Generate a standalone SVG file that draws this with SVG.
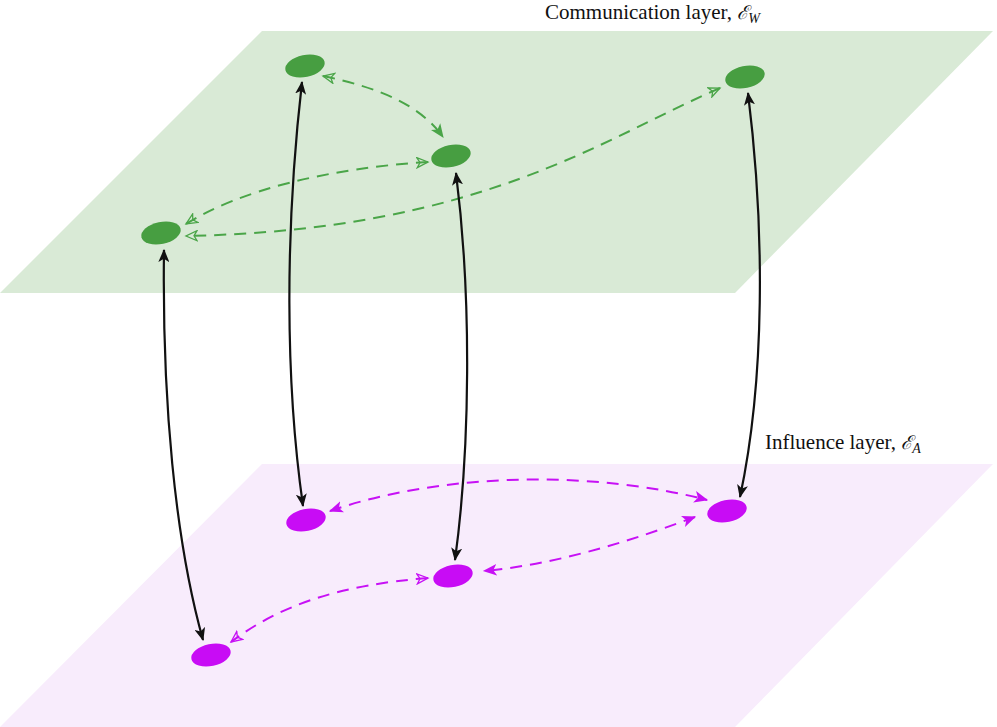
<svg xmlns="http://www.w3.org/2000/svg" width="997" height="727" viewBox="0 0 997 727">
<style>
.t{font-family:"Liberation Serif","DejaVu Serif",serif;font-size:21px;fill:#111}
.blk{fill:none;stroke:#111;stroke-width:2.2}
.gd{fill:none;stroke:#4aa548;stroke-width:2;stroke-dasharray:12,8}
.md{fill:none;stroke:#c711f5;stroke-width:2;stroke-dasharray:12,8}
.gn{fill:#479e41}.mn{fill:#c80cf5}
</style>
<defs>
<marker id="ab" viewBox="0 0 12 10" refX="11" refY="5" markerWidth="6" markerHeight="5" markerUnits="strokeWidth" orient="auto-start-reverse"><path d="M0,0 L12,5 L0,10 L3,5 Z" fill="#111"/></marker>
<marker id="ag" viewBox="0 0 12 10" refX="11" refY="5" markerWidth="7" markerHeight="6" markerUnits="strokeWidth" orient="auto-start-reverse"><path d="M0,0 L12,5 L0,10 L3,5 Z" fill="#4aa548"/></marker>
<marker id="hg" viewBox="0 0 14 12" refX="12" refY="6" markerWidth="7" markerHeight="6" markerUnits="strokeWidth" orient="auto-start-reverse"><path d="M1,1 L12,6 L1,11 L4,6 Z" fill="none" stroke="#4aa548" stroke-width="1.3"/></marker>
<marker id="am" viewBox="0 0 12 10" refX="11" refY="5" markerWidth="7" markerHeight="6" markerUnits="strokeWidth" orient="auto-start-reverse"><path d="M0,0 L12,5 L0,10 L3,5 Z" fill="#c711f5"/></marker>
<marker id="hm" viewBox="0 0 14 12" refX="12" refY="6" markerWidth="7" markerHeight="6" markerUnits="strokeWidth" orient="auto-start-reverse"><path d="M1,1 L12,6 L1,11 L4,6 Z" fill="none" stroke="#c711f5" stroke-width="1.3"/></marker>
</defs>
<polygon points="262,31 993,31 735,293 0,293" fill="#d9ead6"/>
<polygon points="262,464 993,464 735,727 0,727" fill="#f8ecfc"/>
<text class="t" x="545" y="19">Communication layer, <tspan font-style="italic" font-family="DejaVu Serif,serif" font-size="19">ℰ</tspan><tspan font-style="italic" font-size="14" dy="4">W</tspan></text>
<text class="t" x="765" y="449">Influence layer, <tspan font-style="italic" font-family="DejaVu Serif,serif" font-size="19">ℰ</tspan><tspan font-style="italic" font-size="14" dy="4">A</tspan></text>
<g id="connectors">
<path class="gd" d="M323,76 C380,88 420,105 443,137" marker-start="url(#hg)" marker-end="url(#ag)"/>
<path class="gd" d="M428,162 C330,168 240,190 186,224" marker-start="url(#hg)" marker-end="url(#hg)"/>
<path class="gd" d="M720,88 C600,140 480,230 186,236" marker-start="url(#hg)" marker-end="url(#hg)"/>
<path class="md" d="M330,511 C450,470 600,472 707,500" marker-start="url(#am)" marker-end="url(#am)"/>
<path class="md" d="M695,517 C620,545 550,565 484,571" marker-start="url(#am)" marker-end="url(#am)"/>
<path class="md" d="M428,578 C340,585 280,605 231,642" marker-start="url(#hm)" marker-end="url(#hm)"/>
<path class="blk" d="M302,82 C285,230 285,380 303,506" marker-start="url(#ab)" marker-end="url(#ab)"/>
<path class="blk" d="M456,173 C472,300 470,450 455,560" marker-start="url(#ab)" marker-end="url(#ab)"/>
<path class="blk" d="M164,250 C162,400 175,540 203,640" marker-start="url(#ab)" marker-end="url(#ab)"/>
<path class="blk" d="M748,93 C765,230 765,380 740,497" marker-start="url(#ab)" marker-end="url(#ab)"/>
</g>
<g id="g1"><ellipse class="gn" cx="305" cy="66" rx="20" ry="11" transform="rotate(-12 305 66)"/></g>
<g id="g2"><ellipse class="gn" cx="451" cy="156" rx="20" ry="11" transform="rotate(-12 451 156)"/></g>
<g id="g3"><ellipse class="gn" cx="161" cy="233" rx="20" ry="11" transform="rotate(-12 161 233)"/></g>
<g id="g4"><ellipse class="gn" cx="745" cy="77" rx="20" ry="11" transform="rotate(-12 745 77)"/></g>
<g id="p1"><ellipse class="mn" cx="306" cy="520" rx="20" ry="11" transform="rotate(-12 306 520)"/></g>
<g id="p2"><ellipse class="mn" cx="453" cy="576" rx="20" ry="11" transform="rotate(-12 453 576)"/></g>
<g id="p3"><ellipse class="mn" cx="211" cy="655" rx="20" ry="11" transform="rotate(-12 211 655)"/></g>
<g id="p4"><ellipse class="mn" cx="727" cy="511" rx="20" ry="11" transform="rotate(-12 727 511)"/></g>
</svg>
